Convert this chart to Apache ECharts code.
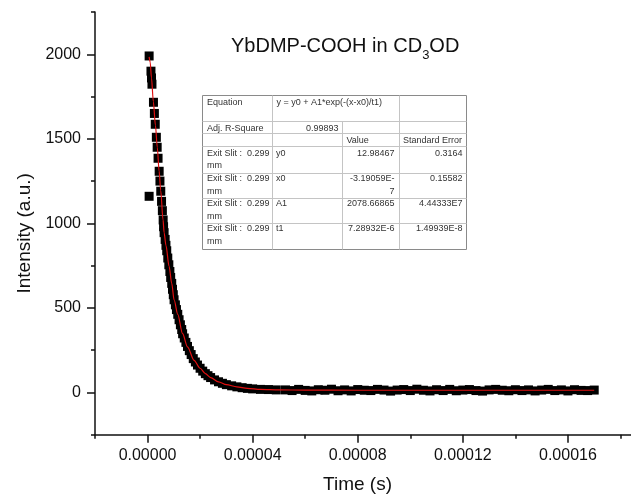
<!DOCTYPE html>
<html>
<head>
<meta charset="utf-8">
<script src="https://cdn.jsdelivr.net/npm/echarts@6/dist/echarts.min.js"></script>
<style>html,body{margin:0;padding:0;background:#fff;}#c{width:631px;height:504px;}</style>
</head>
<body>
<div id="c"></div>
<script>
// ---- data (time in microseconds, intensity in a.u.) ----
var scatterTimeUs = [0.6, 0.6, 1.3, 1.5, 1.68, 2.25, 2.6, 2.93, 3.35, 3.66, 4.0, 4.42, 4.72, 5.03, 5.33, 5.64,
  5.94, 6.1, 6.3, 6.7, 7.0, 7.3, 7.7, 8.1, 8.5, 8.8, 9.2, 9.5, 9.8, 10.1, 10.6, 11.0, 11.5, 12.0, 12.5, 13.0,
  13.35, 13.97, 14.6, 15.2, 15.9, 16.6, 17.4, 18.2, 19.0, 20.0, 21.0, 22.0, 23.0, 24.0, 25.5, 27.0, 28.5, 30.0,
  32.0, 34.0, 36.0, 38.0, 40.0, 43.0, 46.0, 49.0,
  52.5, 55, 57.5, 60, 62.5, 65, 67.5, 70, 72.5, 75, 77.5, 80, 82.5, 85, 87.5, 90, 92.5, 95, 97.5, 100,
  102.5, 105, 107.5, 110, 112.5, 115, 117.5, 120, 122.5, 125, 127.5, 130, 132.5, 135, 137.5, 140, 142.5, 145,
  147.5, 150, 152.5, 155, 157.5, 160, 162.5, 165, 167.5, 170];
var scatterIntensity = [1990, 1160, 1900, 1860, 1823, 1716, 1650, 1586, 1509, 1450, 1385, 1308, 1250, 1190, 1130, 1075,
  1020, 980, 945, 905, 870, 838, 795, 755, 715, 680, 645, 610, 578, 548, 518, 490, 462, 430, 400, 372,
  347, 322, 296, 272, 247, 224, 200, 180, 162, 143, 126, 111, 99, 88, 74, 63, 54, 46,
  39, 33, 28, 24, 21, 18, 17, 15,
  15, 11, 18, 12, 9, 16, 13, 19, 10, 15, 9, 17, 13, 11, 18, 14, 8, 14, 17, 11, 19, 13, 9, 16, 11, 18,
  10, 14, 17, 11, 8, 15, 18, 13, 10, 16, 11, 15, 9, 14, 18, 11, 15, 9, 16, 12, 11, 14];
var fitTimeUs = [0.6, 1.0, 1.5, 2.2, 3.0, 3.7, 4.4, 5.0, 5.9, 6.3, 7.0, 8.2, 9.2, 10.1, 11.5, 13.3, 15.2, 17.7,
  20, 22, 24, 27, 30, 34, 38, 43, 50, 60, 80, 120, 170];
var fitIntensity = [1985, 1954, 1860, 1720, 1580, 1450, 1310, 1195, 1020, 945, 870, 745, 645, 548, 462, 349, 270, 190,
  143, 111, 88, 63, 46, 33, 24, 18, 15, 13.5, 13, 13, 13];
var xMajorTicksUs = [0, 40, 80, 120, 160];
var xTickLabels = ['0.00000', '0.00004', '0.00008', '0.00012', '0.00016'];
var xMinorTicksUs = [-20, 20, 60, 100, 140, 180];
var yMajorTicks = [0, 500, 1000, 1500, 2000];
var yTickLabels = ['0', '500', '1000', '1500', '2000'];
var yMinorTicks = [-250, 250, 750, 1250, 1750, 2250];
var tableRows = [
  ['Equation', 'y = y0 + A1*exp(-(x-x0)/t1)', '', ''],
  ['Adj. R-Square', '0.99893', '', ''],
  ['', '', 'Value', 'Standard Error'],
  ['Exit Slit :  0.299\nmm', 'y0', '12.98467', '0.3164'],
  ['Exit Slit :  0.299\nmm', 'x0', '-3.19059E-\n7', '0.15582'],
  ['Exit Slit :  0.299\nmm', 'A1', '2078.66865', '4.44333E7'],
  ['Exit Slit :  0.299\nmm', 't1', '7.28932E-6', '1.49939E-8']
];

var FONT = 'Liberation Sans, Arial, Helvetica, sans-serif';
var chart = echarts.init(document.getElementById('c'), null, {renderer: 'canvas'});

var scatterData = scatterTimeUs.map(function (t, i) { return [t, scatterIntensity[i]]; });
var fitData = fitTimeUs.map(function (t, i) { return [t, fitIntensity[i]]; });

// ---- table graphics ----
var colX = [202.5, 272.5, 342.5, 399.5, 466.5];
var rowY = [95.5, 121.5, 133.5, 146.5, 173.5, 198.5, 223.5, 249.5];
var g = [];
g.push({type: 'rect', shape: {x: colX[0], y: rowY[0], width: colX[4] - colX[0], height: rowY[7] - rowY[0]},
  style: {fill: '#fff', stroke: '#8a8a8a', lineWidth: 1}, z: 10});
for (var r = 1; r < 7; r++) {
  g.push({type: 'line', shape: {x1: colX[0], y1: rowY[r], x2: colX[4], y2: rowY[r]}, style: {stroke: '#c4c4c4', lineWidth: 1}, z: 11});
}
for (var c = 1; c < 4; c++) {
  g.push({type: 'line', shape: {x1: colX[c], y1: (c === 2 ? rowY[1] : rowY[0]), x2: colX[c], y2: rowY[7]}, style: {stroke: '#c4c4c4', lineWidth: 1}, z: 11});
}
function tText(txt, x, y, align) {
  g.push({type: 'text', x: x, y: y, z: 12,
    style: {text: txt, fill: '#333', fontSize: 9, fontFamily: FONT, align: align, verticalAlign: 'top', lineHeight: 12.5}});
}
var rowTextTop = [96, 122, 134.5, 147, 172.5, 197.5, 222.5];
tText(tableRows[0][0], 207, rowTextTop[0], 'left');
tText(tableRows[0][1], 276.5, rowTextTop[0], 'left');
tText(tableRows[1][0], 207, rowTextTop[1], 'left');
tText(tableRows[1][1], 338.5, rowTextTop[1], 'right');
tText(tableRows[2][2], 346.5, rowTextTop[2], 'left');
tText(tableRows[2][3], 403, rowTextTop[2], 'left');
for (var k = 3; k < 7; k++) {
  tText(tableRows[k][0], 207, rowTextTop[k], 'left');
  tText(tableRows[k][1], 276, rowTextTop[k], 'left');
  tText(tableRows[k][2], 394.5, rowTextTop[k], 'right');
  tText(tableRows[k][3], 462.5, rowTextTop[k], 'right');
}

var axisLineStyle = {color: '#111', width: 1.5};
var option = {
  animation: false,
  backgroundColor: '#fff',
  title: {
    text: '{a|YbDMP-COOH in CD}{s|3}{a|OD}',
    left: 231, top: 36, padding: 0,
    textStyle: {
      fontWeight: 'normal',
      rich: {
        a: {fontSize: 20, fontFamily: FONT, fontWeight: 'normal', color: '#111', lineHeight: 22, verticalAlign: 'top'},
        s: {fontSize: 13, fontFamily: FONT, fontWeight: 'normal', color: '#111', lineHeight: 13, padding: [13, 0, 0, 0], verticalAlign: 'top'}
      }
    }
  },
  grid: {left: 95, right: 0, top: 12, bottom: 69.3, containLabel: false},
  xAxis: [{
    type: 'value', min: -20, max: 184, position: 'bottom',
    axisLine: {show: true, onZero: false, lineStyle: axisLineStyle},
    axisTick: {show: true, length: 8, lineStyle: {color: '#111', width: 1.5}, customValues: xMajorTicksUs},
    axisLabel: {show: true, margin: 13, fontSize: 16, fontFamily: FONT, color: '#111', customValues: xMajorTicksUs,
      formatter: function (v) { var i = xMajorTicksUs.indexOf(v); return i >= 0 ? xTickLabels[i] : ''; }},
    splitLine: {show: false},
    name: 'Time (s)', nameLocation: 'middle', nameGap: 41,
    nameTextStyle: {fontSize: 19, fontFamily: FONT, color: '#111', padding: [0, 11, 0, 0]}
  }, {
    type: 'value', min: -20, max: 184, position: 'bottom', offset: 0,
    axisLine: {show: false, onZero: false}, axisLabel: {show: false}, splitLine: {show: false},
    axisTick: {show: true, length: 4, lineStyle: {color: '#111', width: 1.5}, customValues: xMinorTicksUs}
  }],
  yAxis: [{
    type: 'value', min: -250, max: 2250, position: 'left',
    axisLine: {show: true, onZero: false, lineStyle: axisLineStyle},
    axisTick: {show: true, length: 8, lineStyle: {color: '#111', width: 1.5}, customValues: yMajorTicks},
    axisLabel: {show: true, margin: 14, fontSize: 16, fontFamily: FONT, color: '#111', customValues: yMajorTicks,
      formatter: function (v) { var i = yMajorTicks.indexOf(v); return i >= 0 ? yTickLabels[i] : ''; }},
    splitLine: {show: false},
    name: 'Intensity (a.u.)', nameLocation: 'middle', nameGap: 61,
    nameTextStyle: {fontSize: 19, fontFamily: FONT, color: '#111', padding: [0, 20, 0, 0]}
  }, {
    type: 'value', min: -250, max: 2250, position: 'left', offset: 0,
    axisLine: {show: false, onZero: false}, axisLabel: {show: false}, splitLine: {show: false},
    axisTick: {show: true, length: 4, lineStyle: {color: '#111', width: 1.5}, customValues: yMinorTicks}
  }],
  series: [{
    type: 'scatter', xAxisIndex: 0, yAxisIndex: 0, data: scatterData,
    symbol: 'rect', symbolSize: 9, itemStyle: {color: '#000', opacity: 1}, z: 2, silent: true
  }, {
    type: 'line', xAxisIndex: 0, yAxisIndex: 0, data: fitData, showSymbol: false,
    smooth: 0.3, smoothMonotone: 'x',
    lineStyle: {color: '#e01010', width: 1.2}, z: 3, silent: true
  }],
  graphic: g
};
chart.setOption(option);
</script>
</body>
</html>
